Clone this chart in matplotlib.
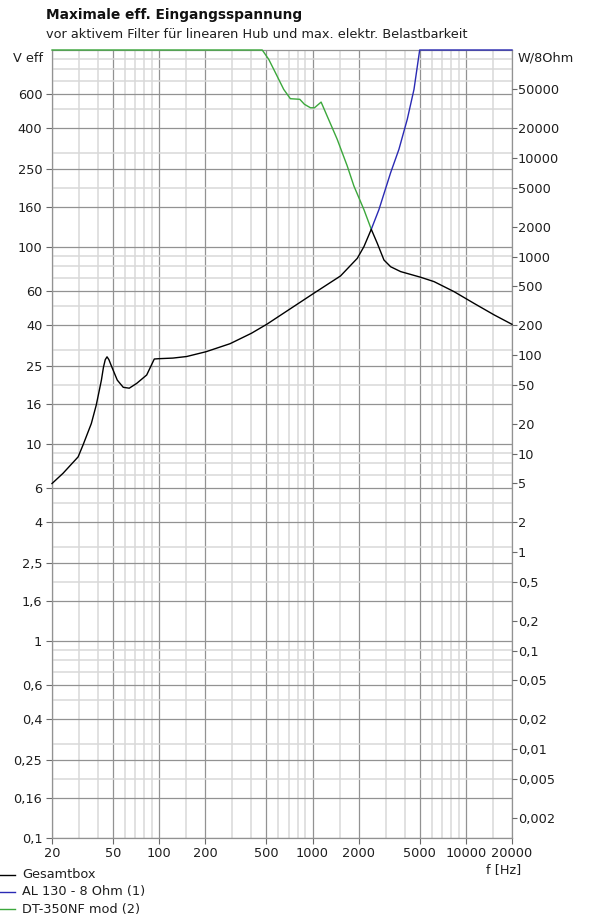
import matplotlib
matplotlib.use("Agg")
import matplotlib.pyplot as plt
from matplotlib.lines import Line2D
from matplotlib.ticker import FixedLocator, FixedFormatter, NullFormatter

plt.rcParams['font.family'] = ['DejaVu Sans']

# ---------------- data ----------------
freq_total = [20, 23.6, 29.6, 31.9, 36.1, 38.9, 42.0, 43.3, 44.5, 45.7, 47.0, 48.9, 53.3, 58.3,
              63.8, 71.3, 82.9, 92.9, 98.8, 123, 151, 202, 290, 400, 505, 1019, 1523,
              1959, 2164, 2417, 2645, 2924, 3233, 3758, 5078, 6208, 8392, 11330, 15310, 20000]
v_total = [6.3, 7.1, 8.6, 9.9, 12.7, 15.8, 21.1, 24.5, 26.8, 27.7, 26.8, 24.8, 21.1, 19.4,
           19.2, 20.3, 22.4, 27.0, 27.1, 27.3, 27.8, 29.4, 32.3, 36.5, 40.6, 58.2, 71.3,
           87.6, 100.4, 123, 104.4, 85.9, 79.4, 75.0, 70.2, 66.7, 59.3, 51.7, 45.2, 40.5]

freq_al = [2417, 2713, 3230, 3660, 4150, 4590, 5000, 20000]
v_al = [123, 155, 238, 313, 445, 631, 1000, 1000]

freq_dt = [20, 470, 518, 573, 649, 717, 826, 886, 970, 1030, 1138, 1246, 1449, 1684,
           1862, 2163, 2417]
v_dt = [1000, 1000, 897, 767, 631, 566, 562, 530, 509, 509, 544, 462, 352, 258,
        204, 155, 123]

x_ticks = [20, 50, 100, 200, 500, 1000, 2000, 5000, 10000, 20000]
x_tick_labels = ["20", "50", "100", "200", "500", "1000", "2000", "5000", "10000", "20000"]
x_minor = [30, 40, 60, 70, 80, 90, 150, 300, 400, 600, 700, 800, 900, 1500,
           3000, 4000, 6000, 7000, 8000, 9000, 15000]

y_ticks = [0.1, 0.16, 0.25, 0.4, 0.6, 1, 1.6, 2.5, 4, 6, 10, 16, 25, 40, 60, 100, 160, 250, 400, 600]
y_tick_labels = ["0,1", "0,16", "0,25", "0,4", "0,6", "1", "1,6", "2,5", "4", "6", "10", "16",
                 "25", "40", "60", "100", "160", "250", "400", "600"]
y_minor = [0.2, 0.3, 0.5, 0.7, 0.8, 0.9, 2, 3, 5, 7, 8, 9, 20, 30, 50, 70, 80, 90,
           200, 300, 500, 700, 800, 900]

p_ticks = [50000, 20000, 10000, 5000, 2000, 1000, 500, 200, 100, 50, 20, 10, 5, 2, 1,
           0.5, 0.2, 0.1, 0.05, 0.02, 0.01, 0.005, 0.002]
p_tick_labels = ["50000", "20000", "10000", "5000", "2000", "1000", "500", "200", "100", "50",
                 "20", "10", "5", "2", "1", "0,5", "0,2", "0,1", "0,05", "0,02", "0,01",
                 "0,005", "0,002"]

series_names = ["Gesamtbox", "AL 130 - 8 Ohm (1)", "DT-350NF mod (2)"]
series_colors = ["#000000", "#2a2ab4", "#3ca83c"]

# ---------------- figure ----------------
W, H = 590, 919
fig = plt.figure(figsize=(W / 100, H / 100), dpi=100)
fig.patch.set_facecolor("white")

L, R, B, T = 52, 512, 838, 50
ax = fig.add_axes([L / W, 1 - B / H, (R - L) / W, (B - T) / H])
ax.set_xscale("log")
ax.set_yscale("log")
ax.set_xlim(20, 20000)
ax.set_ylim(0.1, 1000)

major_grid = "#929292"
minor_grid = "#d8d8d8"
tick_col = "#6a6a6a"
text_col = "#1e1e1e"
fs = 9.3

ax.xaxis.set_major_locator(FixedLocator(x_ticks))
ax.xaxis.set_major_formatter(FixedFormatter(x_tick_labels))
ax.xaxis.set_minor_locator(FixedLocator(x_minor))
ax.xaxis.set_minor_formatter(NullFormatter())
ax.yaxis.set_major_locator(FixedLocator(y_ticks))
ax.yaxis.set_major_formatter(FixedFormatter(y_tick_labels))
ax.yaxis.set_minor_locator(FixedLocator(y_minor))
ax.yaxis.set_minor_formatter(NullFormatter())

ax.grid(which="minor", color=minor_grid, linewidth=1.1, zorder=0)
ax.grid(which="major", color=major_grid, linewidth=0.9, zorder=0.5)
ax.set_axisbelow(True)
ax.tick_params(which="minor", length=0)
ax.tick_params(axis="y", which="major", direction="out", length=4, width=0.8,
               color=tick_col, pad=3.0, labelsize=fs, labelcolor=text_col)
ax.tick_params(axis="x", which="major", direction="out", length=4, width=0.8,
               color=tick_col, pad=2.5, labelsize=fs, labelcolor=text_col)
for s in ax.spines.values():
    s.set_color(major_grid)
    s.set_linewidth(0.9)

ax.plot(freq_dt, v_dt, color=series_colors[2], lw=1.0, clip_on=False, zorder=3)
ax.plot(freq_al, v_al, color=series_colors[1], lw=1.0, clip_on=False, zorder=3)
ax.plot(freq_total, v_total, color=series_colors[0], lw=1.0, clip_on=False, zorder=4)

# right axis: W at 8 Ohm (P = V^2 / 8)
ax2 = ax.twinx()
ax2.set_yscale("log")
ax2.set_ylim(0.1 ** 2 / 8, 1000 ** 2 / 8)
ax2.yaxis.set_major_locator(FixedLocator(p_ticks))
ax2.yaxis.set_major_formatter(FixedFormatter(p_tick_labels))
ax2.yaxis.set_minor_locator(FixedLocator([]))
ax2.tick_params(axis="y", which="major", direction="out", length=3.5, width=0.8,
                color=tick_col, pad=0.8, labelsize=fs, labelcolor=text_col)
for s in ax2.spines.values():
    s.set_visible(False)

# texts
fig.text(46 / W, 1 - 15 / H, "Maximale eff. Eingangsspannung", fontsize=9.9,
         fontweight="bold", color="#111111", va="center", ha="left")
fig.text(46 / W, 1 - 35 / H,
         "vor aktivem Filter für linearen Hub und max. elektr. Belastbarkeit",
         fontsize=9.3, color=text_col, va="center", ha="left")
fig.text(13 / W, 1 - 58 / H, "V eff", fontsize=fs, color=text_col, va="center", ha="left")
fig.text(518 / W, 1 - 58 / H, "W/8Ohm", fontsize=fs, color=text_col, va="center", ha="left")
fig.text(521 / W, 1 - 870 / H, "f [Hz]", fontsize=fs, color=text_col, va="center", ha="right")

# legend
leg_y = [875, 892, 909]
for name, col, yy in zip(series_names, series_colors, leg_y):
    fig.add_artist(Line2D([0, 15 / W], [1 - yy / H, 1 - yy / H], color=col, lw=1.0,
                          transform=fig.transFigure))
    fig.text(22 / W, 1 - yy / H, name, fontsize=fs, color=text_col, va="center", ha="left")

fig.savefig("out.png", dpi=100, facecolor="white")
